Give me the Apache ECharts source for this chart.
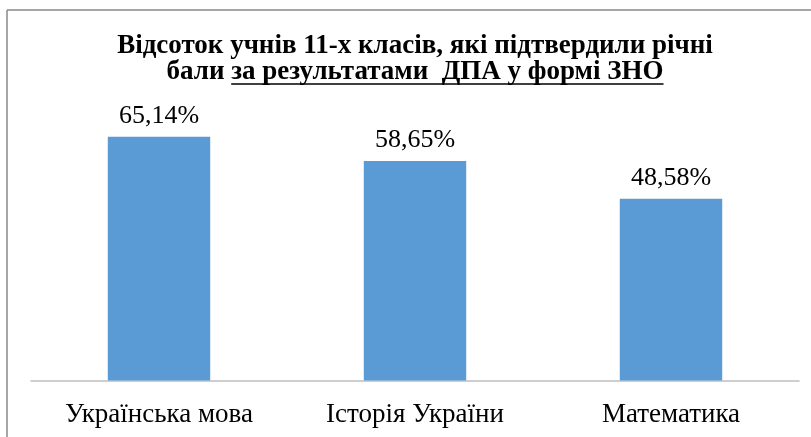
<!DOCTYPE html>
<html><head><meta charset="utf-8">
<script src="https://cdn.jsdelivr.net/npm/echarts@6/dist/echarts.min.js"></script>
<style>html,body{margin:0;padding:0;background:#fff;overflow:hidden}#c{width:811px;height:437px}</style>
</head><body><div id="c"></div>
<script>
const categories = ['Українська мова', 'Історія України', 'Математика'];
const values = [65.14, 58.65, 48.58];
const titleLine1 = 'Відсоток учнів 11-х класів, які підтвердили річні';
const titleLine2a = 'бали ';
const titleLine2b = 'за результатами  ДПА у формі ЗНО';

const serif = '"Liberation Serif", "Times New Roman", serif';
const titleFont = 'bold 27px ' + serif;
const cv = document.createElement('canvas').getContext('2d');
cv.font = titleFont;
const wA = cv.measureText(titleLine2a).width;
const wB = cv.measureText(titleLine2b).width;
const cx = 415;
const startX = cx - (wA + wB) / 2;

const chart = echarts.init(document.getElementById('c'), null, {renderer: 'canvas'});
chart.setOption({
  animation: false,
  backgroundColor: '#fff',
  grid: {left: 31, right: 12, top: 118.5, bottom: 56.5, containLabel: false},
  xAxis: {
    type: 'category', data: categories,
    axisLine: {lineStyle: {color: '#bfbfbf', width: 1.5}},
    axisTick: {show: false},
    axisLabel: {color: '#000', fontFamily: serif, fontSize: 27, margin: 21}
  },
  yAxis: {type: 'value', min: 0, max: 70, interval: 10, show: false, splitLine: {show: false}},
  series: [{
    type: 'bar', data: values, barWidth: '40%',
    itemStyle: {color: '#5B9BD5'},
    label: {show: true, position: 'top', distance: 8, color: '#000', fontFamily: serif, fontSize: 26,
      formatter: p => p.value.toFixed(2).replace('.', ',') + '%'}
  }],
  graphic: [
    {type: 'line', shape: {x1: 7, y1: 10, x2: 811, y2: 10}, style: {stroke: '#898989', lineWidth: 1.5}, silent: true},
    {type: 'line', shape: {x1: 7, y1: 10, x2: 7, y2: 437}, style: {stroke: '#898989', lineWidth: 1.5}, silent: true},
    {type: 'text', x: cx, y: 46, style: {text: titleLine1, font: titleFont, fill: '#000', align: 'center', verticalAlign: 'middle'}},
    {type: 'text', x: startX, y: 72, style: {text: titleLine2a + titleLine2b, font: titleFont, fill: '#000', align: 'left', verticalAlign: 'middle'}},
    {type: 'line', shape: {x1: startX + wA, y1: 84, x2: startX + wA + wB, y2: 84}, style: {stroke: '#000', lineWidth: 1.5}}
  ]
});
</script></body></html>
